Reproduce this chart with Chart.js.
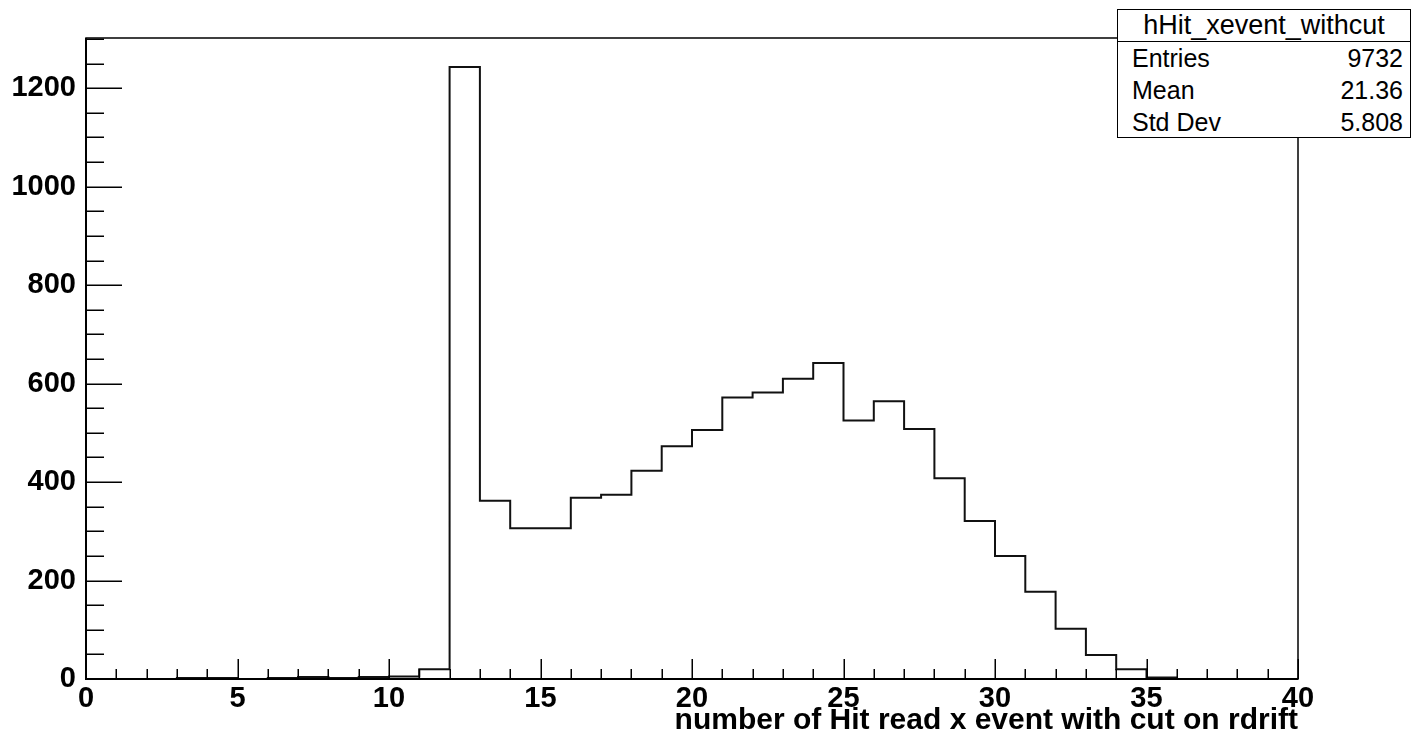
<!DOCTYPE html>
<html>
<head>
<meta charset="utf-8">
<script src="https://cdn.jsdelivr.net/npm/chart.js@4.4.1/dist/chart.umd.min.js"></script>
<style>
html,body{margin:0;padding:0;background:#fff;}
#wrap{position:relative;width:1412px;height:744px;overflow:hidden;}
#c{position:absolute;left:0;top:0;}
#stats{position:absolute;left:1117px;top:9px;width:294px;height:129px;border:1.5px solid #000;background:#fff;box-sizing:border-box;font-family:'Liberation Sans',Arial,Helvetica,sans-serif;color:#000;}
#stats .hdr{height:31px;line-height:31px;text-align:center;font-size:27px;border-bottom:1.5px solid #000;}
#stats .row{height:32px;line-height:32px;font-size:25px;padding:0 7px 0 14px;display:flex;justify-content:space-between;}
</style>
</head>
<body>
<div id="wrap">
<canvas id="c" width="1412" height="744"></canvas>
<div id="stats"></div>
</div>
<script>
// ---- data ----
const binEdges = [0,1,2,3,4,5,6,7,8,9,10,11,12,13,14,15,16,17,18,19,20,21,22,23,24,25,26,27,28,29,30,31,32,33,34,35,36,37,38,39,40];
const counts   = [0,0,0,2,2,0,2,4,2,4,5,20,1243,362,306,306,368,374,423,473,506,572,582,610,642,525,564,508,408,321,250,177,102,49,20,3,0,0,0,0];
const xTicks = [0,5,10,15,20,25,30,35,40];
const yTicks = [0,200,400,600,800,1000,1200];
const xTitle = 'number of Hit read x event with cut on rdrift';
const histName = 'hHit_xevent_withcut';
const statLabels = ['Entries','Mean','Std Dev'];
const statValues = ['9732','21.36','5.808'];
const yMax = 1302;

// stats box (real text)
const st = document.getElementById('stats');
let html = '<div class="hdr">' + histName + '</div>';
statLabels.forEach((l,i)=>{ html += '<div class="row"><span>'+l+'</span><span>'+statValues[i]+'</span></div>'; });
st.innerHTML = html;

// histogram outline points: bin i value held over [edge i, edge i+1]
const pts = binEdges.map((e,i)=>({x:e, y: i < counts.length ? counts[i] : 0}));

const rootAxes = {
  id:'rootAxes',
  afterDatasetsDraw(chart){
    const {ctx, chartArea:a, scales:{x,y}} = chart;
    ctx.save();
    ctx.strokeStyle = '#000';
    ctx.lineWidth = 1.5;
    ctx.strokeRect(a.left, a.top, a.right-a.left, a.bottom-a.top);
    ctx.lineWidth = 2;
    ctx.beginPath();
    ctx.moveTo(a.left, a.top); ctx.lineTo(a.left, a.bottom); ctx.lineTo(a.right, a.bottom);
    ctx.stroke();
    ctx.lineWidth = 1.5;
    ctx.beginPath();
    for (let v = x.min; v <= x.max; v += 1) {
      const px = Math.round(x.getPixelForValue(v)) + 0.25;
      const len = (v % 5 === 0) ? 20 : 10;
      ctx.moveTo(px, a.bottom); ctx.lineTo(px, a.bottom - len);
    }
    for (let v = 0; v <= y.max; v += 50) {
      const py = Math.round(y.getPixelForValue(v)) + 0.25;
      const len = (v % 200 === 0) ? 36 : 18;
      ctx.moveTo(a.left, py); ctx.lineTo(a.left + len, py);
    }
    ctx.stroke();
    ctx.restore();
  }
};

const fam = "'Liberation Sans', Arial, Helvetica, sans-serif";
new Chart(document.getElementById('c'), {
  type: 'line',
  data: {
    datasets: [{
      data: pts,
      stepped: 'before',
      borderColor: '#111',
      borderWidth: 2,
      pointRadius: 0,
      fill: false,
      tension: 0
    }]
  },
  options: {
    responsive: false,
    animation: false,
    events: [],
    layout: { padding: { left: 0, top: 38, right: 114, bottom: 0 } },
    plugins: { legend: { display: false }, tooltip: { enabled: false } },
    scales: {
      x: {
        type: 'linear', min: 0, max: 40,
        afterBuildTicks: s => { s.ticks = xTicks.map(v => ({value: v})); },
        afterFit: s => { s.height = 65; },
        grid: { display: false, drawTicks: false },
        border: { display: false },
        ticks: { color: '#000', font: { family: fam, size: 29, weight: 'bold' }, padding: 3, maxRotation: 0, autoSkip: false,
                 callback: v => String(v) },
        title: { display: true, text: xTitle, align: 'end', color: '#000',
                 font: { family: fam, size: 30, weight: 'bold' },
                 padding: { top: 0, bottom: 5 } }
      },
      y: {
        type: 'linear', min: 0, max: yMax,
        afterBuildTicks: s => { s.ticks = yTicks.map(v => ({value: v})); },
        afterFit: s => { s.width = 86; },
        grid: { display: false, drawTicks: false },
        border: { display: false },
        ticks: { color: '#000', font: { family: fam, size: 29, weight: 'bold' }, padding: 10, autoSkip: false,
                 callback: v => String(v) }
      }
    }
  },
  plugins: [rootAxes]
});
</script>
</body>
</html>
